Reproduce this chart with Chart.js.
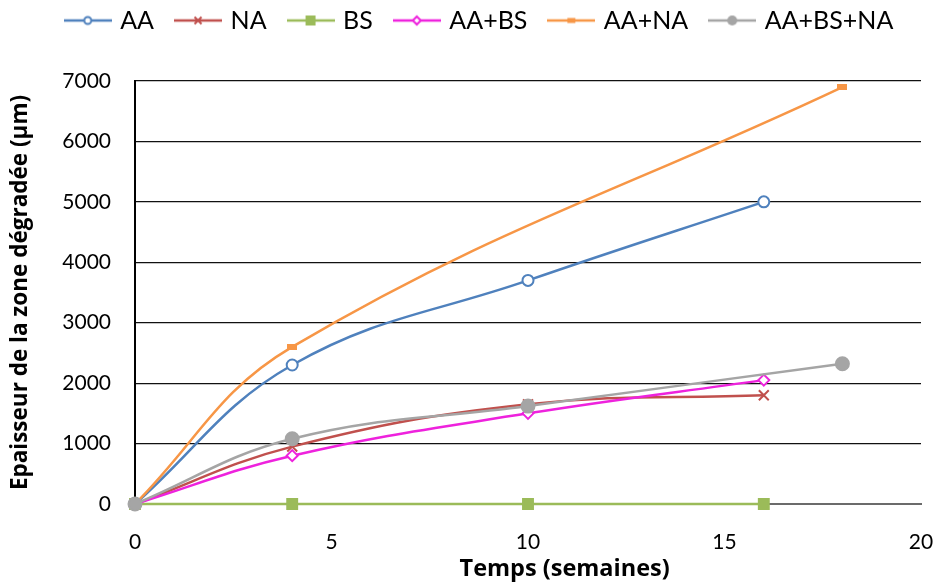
<!DOCTYPE html>
<html>
<head>
<meta charset="utf-8">
<script src="https://cdn.jsdelivr.net/npm/chart.js@4.4.0/dist/chart.umd.min.js"></script>
<style>
  html, body { margin: 0; padding: 0; background: #fff; }
  #wrap { width: 941px; height: 583px; }
</style>
</head>
<body>
<div id="wrap"><canvas id="chart"></canvas></div>
<script>
// --- data ---
const seriesNames = ["AA", "NA", "BS", "AA+BS", "AA+NA", "AA+BS+NA"];
const timeAA = [0, 4, 10, 16];
const valAA = [0, 2300, 3700, 5000];
const timeNA = [0, 4, 10, 16];
const valNA = [0, 950, 1650, 1800];
const timeBS = [0, 4, 10, 16];
const valBS = [0, 0, 0, 0];
const timeAABS = [0, 4, 10, 16];
const valAABS = [0, 800, 1500, 2050];
const timeAANA = [0, 4, 18];
const valAANA = [0, 2600, 6900];
const timeAll = [0, 4, 10, 18];
const valAll = [0, 1080, 1620, 2320];
const xTicks = [0, 5, 10, 15, 20];
const yTicks = [0, 1000, 2000, 3000, 4000, 5000, 6000, 7000];

const FONT = "Lato, 'Liberation Sans', Arial, sans-serif";
const TITLE_FONT = "'Open Sans', Lato, sans-serif";

function pts(xs, ys) {
  return xs.map((x, i) => ({ x: x, y: ys[i] }));
}

// marker drawn on a small canvas (used for the legend icon)
function drawMarker(g, cx, cy, color, style, r) {
  g.strokeStyle = color;
  g.lineWidth = 2;
  g.beginPath();
  if (style === "circle") {
    g.fillStyle = "#fff";
    g.arc(cx, cy, r, 0, Math.PI * 2);
    g.fill(); g.stroke();
  } else if (style === "dot") {
    g.fillStyle = color;
    g.arc(cx, cy, r, 0, Math.PI * 2);
    g.fill();
  } else if (style === "rect") {
    g.fillStyle = color;
    g.fillRect(cx - r, cy - r, r * 2, r * 2);
  } else if (style === "rectRot") {
    g.fillStyle = "#fff";
    g.moveTo(cx, cy - r); g.lineTo(cx + r, cy);
    g.lineTo(cx, cy + r); g.lineTo(cx - r, cy); g.closePath();
    g.fill(); g.stroke();
  } else if (style === "crossRot") {
    g.moveTo(cx - r, cy - r); g.lineTo(cx + r, cy + r);
    g.moveTo(cx + r, cy - r); g.lineTo(cx - r, cy + r);
    g.stroke();
  } else if (style === "dash") {
    g.fillStyle = color;
    g.fillRect(cx - 4, cy - 2.5, 8, 5);
  }
}

function legendIcon(color, style, r) {
  const c = document.createElement("canvas");
  c.width = 48; c.height = 16;
  const g = c.getContext("2d");
  g.strokeStyle = color;
  g.lineWidth = 2.5;
  g.beginPath(); g.moveTo(0, 8); g.lineTo(48, 8); g.stroke();
  drawMarker(g, 24, 8, color, style, r);
  return c;
}

function dashImage(color) {
  const c = document.createElement("canvas");
  c.width = 10; c.height = 6;
  const g = c.getContext("2d");
  g.fillStyle = color;
  g.fillRect(0, 0, 10, 6);
  return c;
}

function makeSet(i, data, color, style, r, legendR) {
  let ps = style, pr = r, bg = "#ffffff";
  if (style === "dot") { ps = "circle"; bg = color; }
  if (style === "rect") { bg = color; }
  if (style === "dash") { ps = dashImage(color); }
  return {
    label: seriesNames[i],
    data: data,
    borderColor: color,
    backgroundColor: bg,
    borderWidth: 2.5,
    tension: 0.4,
    clip: false,
    order: 10 - i,
    pointStyle: ps,
    pointRadius: pr,
    pointBorderWidth: 2,
    pointBorderColor: color,
    pointBackgroundColor: bg,
    fill: false,
    legendIcon: legendIcon(color, style, legendR),
  };
}

const datasets = [
  makeSet(0, pts(timeAA, valAA), "#4F81BD", "circle", 5.5, 3.5),
  makeSet(1, pts(timeNA, valNA), "#C0504D", "crossRot", 7, 3.5),
  makeSet(2, pts(timeBS, valBS), "#9BBB59", "rect", 7, 5),
  makeSet(3, pts(timeAABS, valAABS), "#EE22DD", "rectRot", 5.5, 4),
  makeSet(4, pts(timeAANA, valAANA), "#F79646", "dash", 5, 4),
  makeSet(5, pts(timeAll, valAll), "#A5A5A5", "dot", 6.5, 5),
];

// legend takes the whole band above the plot, nudged a bit to the right
const legendHeight = {
  id: "legendHeight",
  beforeInit(chart) {
    const fit = chart.legend.fit;
    chart.legend.fit = function () {
      fit.bind(chart.legend)();
      this.height = 97;
    };
  },
  afterLayout(chart) {
    chart.legend.left += 20;
    chart.legend.right += 20;
  },
};

new Chart(document.getElementById("chart"), {
  type: "line",
  data: { datasets: datasets },
  plugins: [legendHeight],
  options: {
    responsive: true,
    maintainAspectRatio: false,
    animation: false,
    layout: { padding: { left: 0, right: 20, top: -16, bottom: 0 } },
    plugins: {
      tooltip: { enabled: false },
      legend: {
        position: "top",
        labels: {
          usePointStyle: true,
          pointStyleWidth: 40,
          boxHeight: 16,
          padding: 24,
          color: "#000",
          font: { family: FONT, size: 25 },
          generateLabels(chart) {
            return chart.data.datasets.map((ds, i) => ({
              text: ds.label,
              pointStyle: ds.legendIcon,
              datasetIndex: i,
              lineWidth: 0,
              strokeStyle: "transparent",
              fillStyle: "transparent",
              fontColor: "#000",
            }));
          },
        },
      },
    },
    scales: {
      x: {
        type: "linear",
        min: 0,
        max: 20,
        afterBuildTicks(s) { s.ticks = xTicks.map((v) => ({ value: v })); },
        afterFit(s) {
          s.height = 79;
          s.paddingLeft = 0;
          s.paddingRight = 0;
        },
        grid: { display: false, drawTicks: false },
        border: { display: true, color: "#6b6b6b", width: 2 },
        ticks: { color: "#000", padding: 26, font: { family: FONT, size: 21 }, callback: (v) => v },
        title: {
          display: true,
          text: "            Temps (semaines)",
          color: "#000",
          padding: { top: 0, bottom: 0 },
          font: { family: TITLE_FONT, size: 23.5, weight: "bold" },
        },
      },
      y: {
        min: 0,
        max: 7000,
        afterBuildTicks(s) { s.ticks = yTicks.map((v) => ({ value: v })); },
        afterFit(s) { s.width = 135; },
        grid: { color: "#111", lineWidth: 1.2, drawTicks: false },
        border: { display: true, color: "#000", width: 2 },
        ticks: { color: "#000", padding: 24, font: { family: FONT, size: 21 }, callback: (v) => v },
        title: {
          display: true,
          text: "Epaisseur de la zone dégradée (µm)",
          color: "#000",
          padding: { top: 7, bottom: 0 },
          font: { family: TITLE_FONT, size: 22.5, weight: "bold" },
        },
      },
    },
  },
});
</script>
</body>
</html>
